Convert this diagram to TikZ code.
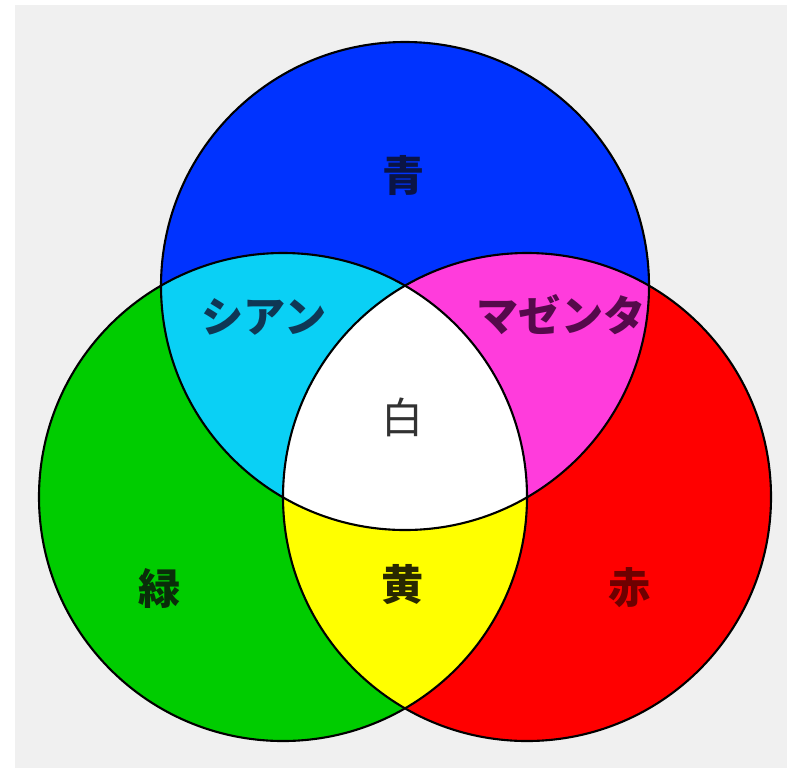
\documentclass[tikz,border=0pt]{standalone}
\usepackage{fontspec}
\newfontfamily\jpfont{Noto Sans CJK JP}
\usepackage{tikz}
\definecolor{paper}{RGB}{240,240,240}
\definecolor{B}{RGB}{0,51,255}
\definecolor{G}{RGB}{0,204,0}
\definecolor{R}{RGB}{255,0,0}
\definecolor{C}{RGB}{10,208,245}
\definecolor{M}{RGB}{255,60,220}
\definecolor{Y}{RGB}{255,255,0}
\definecolor{Bt}{RGB}{10,20,70}
\definecolor{Ct}{RGB}{15,55,85}
\definecolor{Mt}{RGB}{85,10,75}
\definecolor{Wt}{RGB}{50,50,50}
\definecolor{Gt}{RGB}{10,45,10}
\definecolor{Yt}{RGB}{40,40,0}
\definecolor{Rt}{RGB}{110,0,0}
\tikzstyle{base}=[x=0.02cm, y=-0.02cm, inner sep=0pt, outer sep=0pt]
\tikzstyle{ring}=[black, line width=1.2pt]
\tikzstyle{word}=[font=\jpfont\bfseries\fontsize{24}{28}\selectfont]
\tikzstyle{thinword}=[font=\jpfont\fontsize{24}{28}\selectfont]

\begin{document}
\begin{tikzpicture}[base]
    \path [use as bounding box] (0,0) rectangle (787,768);
    \fill [white] (0,0) rectangle (787,768);
    \fill [paper] (15,5) rectangle (787,768);
    % centres of the three lights
    \coordinate (blue) at (405,286);
    \coordinate (green) at (283,497);
    \coordinate (red) at (527,497);
    \fill [B] (blue) circle [radius=244];
    \fill [G] (green) circle [radius=244];
    \fill [R] (red) circle [radius=244];
    \begin{scope}
        \clip (green) circle [radius=244];
        \fill [Y] (red) circle [radius=244];
    \end{scope}
    \begin{scope}
        \clip (blue) circle [radius=244];
        \fill [C] (green) circle [radius=244];
        \fill [M] (red) circle [radius=244];
        \clip (green) circle [radius=244];
        \fill [white] (red) circle [radius=244];
    \end{scope}
    \draw [ring] (blue) circle [radius=244];
    \draw [ring] (green) circle [radius=244];
    \draw [ring] (red) circle [radius=244];
    % colour names
    \node [word, Bt] (ao) at (404,175) {青};
    \node [word, Ct] (shian) at (264,317) {シアン};
    \node [word, Mt] (mazenta) at (561,315) {マゼンタ};
    \node [thinword, Wt] (shiro) at (403,417) {白};
    \node [word, Gt] (midori) at (160,588) {緑};
    \node [word, Yt] (ki) at (403,585) {黄};
    \node [word, Rt] (aka) at (630,588) {赤};
\end{tikzpicture}
\end{document}
